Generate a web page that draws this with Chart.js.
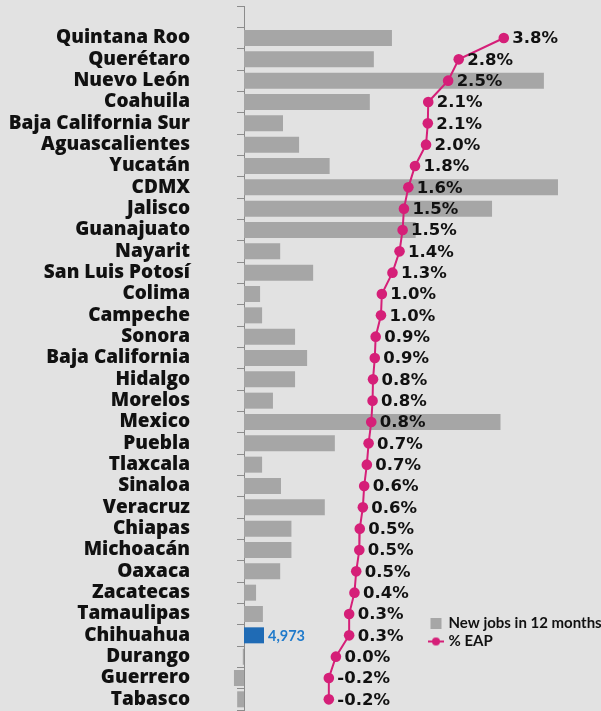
<!DOCTYPE html>
<html>
<head>
<meta charset="utf-8">
<script src="https://cdn.jsdelivr.net/npm/chart.js@4.4.1/dist/chart.umd.min.js"></script>
<style>
  html, body { margin: 0; padding: 0; background: #e2e2e2; }
  #wrap { width: 601px; height: 711px; position: relative; }
</style>
</head>
<body>
<div id="wrap"><canvas id="eapChart"></canvas></div>
<script>
// states, top to bottom
const states = ['Quintana Roo', 'Querétaro', 'Nuevo León', 'Coahuila', 'Baja California Sur',
    'Aguascalientes', 'Yucatán', 'CDMX', 'Jalisco', 'Guanajuato', 'Nayarit', 'San Luis Potosí',
    'Colima', 'Campeche', 'Sonora', 'Baja California', 'Hidalgo', 'Morelos', 'Mexico', 'Puebla',
    'Tlaxcala', 'Sinaloa', 'Veracruz', 'Chiapas', 'Michoacán', 'Oaxaca', 'Zacatecas',
    'Tamaulipas', 'Chihuahua', 'Durango', 'Guerrero', 'Tabasco'];

// new formal jobs in the last 12 months
const newJobs = [36800, 32300, 74600, 31300, 9700, 13700, 21300, 78100, 61700, 42700, 9000, 17200,
    4000, 4500, 12700, 15700, 12700, 7200, 63800, 22600, 4500, 9200, 20100, 11800, 11800, 9000,
    3000, 4700, 4973, -300, -2500, -1700];

// new jobs as % of economically active population
const eapShare = [3.80, 2.78, 2.54, 2.09, 2.08, 2.04, 1.79, 1.64, 1.54, 1.51, 1.44, 1.28,
    1.04, 1.02, 0.90, 0.88, 0.84, 0.83, 0.80, 0.74, 0.70, 0.64, 0.61, 0.54, 0.53, 0.46,
    0.42, 0.30, 0.30, 0.00, -0.16, -0.16];

const highlightState = 'Chihuahua';
const seriesNames = ['New jobs in 12 months', '% EAP'];

const GRAY = '#a6a6a6';
const BLUE = '#1f6bb5';
const PINK = '#d51f78';

// one blank slot above the first state, like the original
const labels = [''].concat(states);
const jobsData = [null].concat(newJobs);
const eapData = [null].concat(eapShare);

// legend icon: line with a dot
const eapIcon = document.createElement('canvas');
eapIcon.width = 16;
eapIcon.height = 10;
const ic = eapIcon.getContext('2d');
ic.strokeStyle = PINK;
ic.lineWidth = 2;
ic.beginPath();
ic.moveTo(0, 5);
ic.lineTo(16, 5);
ic.stroke();
ic.fillStyle = PINK;
ic.beginPath();
ic.arc(8, 5, 4, 0, Math.PI * 2);
ic.fill();

const valueLabels = {
    id: 'valueLabels',
    beforeDraw(chart) {
        // park the legend at lower right of the plot
        const lg = chart.legend;
        lg.left = 428;
        lg.top = 613;
        lg.bottom = 705;
    },
    afterDatasetsDraw(chart) {
        const ctx = chart.ctx;
        ctx.save();
        ctx.textBaseline = 'middle';
        ctx.textAlign = 'left';

        ctx.font = 'bold 16.5px "DejaVu Sans"';
        ctx.fillStyle = '#111';
        chart.getDatasetMeta(1).data.forEach((pt, i) => {
            const v = eapData[i];
            if (v === null) return;
            ctx.fillText(v.toFixed(1) + '%', pt.x + 8.5, pt.y + 1);
        });

        const idx = labels.indexOf(highlightState);
        const bar = chart.getDatasetMeta(0).data[idx];
        ctx.font = 'bold 14.5px Lato';
        ctx.fillStyle = '#1f7acb';
        ctx.fillText(jobsData[idx].toLocaleString('en-US'), bar.x + 4, bar.y + 1);
        ctx.restore();
    }
};

new Chart(document.getElementById('eapChart'), {
    type: 'bar',
    data: {
        labels: labels,
        datasets: [{
            label: seriesNames[0],
            data: jobsData,
            xAxisID: 'x',
            backgroundColor: labels.map(s => s === highlightState ? BLUE : GRAY),
            barPercentage: 0.75,
            categoryPercentage: 1,
            clip: false,
            order: 1
        }, {
            type: 'line',
            label: seriesNames[1],
            data: eapData,
            xAxisID: 'x2',
            borderColor: PINK,
            borderWidth: 2,
            pointRadius: 5.3,
            pointBackgroundColor: PINK,
            pointBorderWidth: 0,
            tension: 0,
            order: 0
        }]
    },
    options: {
        indexAxis: 'y',
        responsive: true,
        maintainAspectRatio: false,
        animation: false,
        layout: { autoPadding: false, padding: { top: 6, bottom: 1, left: 0, right: 0 } },
        scales: {
            y: {
                type: 'category',
                position: 'left',
                grid: { offset: true, drawOnChartArea: false, tickLength: 7, color: '#8c8c8c' },
                border: { color: '#8c8c8c', width: 1 },
                ticks: {
                    autoSkip: false,
                    padding: 47,
                    color: '#111',
                    font: { family: 'Open Sans', weight: 800, size: 19 }
                },
                afterFit(scale) {
                    scale.width = 244;
                    scale.paddingTop = 0;
                    scale.paddingBottom = 0;
                }
            },
            x: { type: 'linear', display: false, min: 0, max: 88800 },
            x2: { type: 'linear', display: false, min: -2.08, max: 6.0 }
        },
        plugins: {
            tooltip: { enabled: false },
            legend: {
                position: 'chartArea',
                align: 'start',
                labels: {
                    usePointStyle: true,
                    boxWidth: 10,
                    boxHeight: 11,
                    padding: 3,
                    color: '#111',
                    font: { family: 'Lato', weight: 'bold', size: 15 },
                    generateLabels(chart) {
                        const items = Chart.defaults.plugins.legend.labels.generateLabels(chart);
                        items.sort((a, b) => a.datasetIndex - b.datasetIndex);
                        items[0].pointStyle = 'rect';
                        items[0].fillStyle = GRAY;
                        items[0].strokeStyle = GRAY;
                        items[0].lineWidth = 0;
                        items[1].pointStyle = eapIcon;
                        return items;
                    }
                }
            }
        }
    },
    plugins: [valueLabels]
});
</script>
</body>
</html>
